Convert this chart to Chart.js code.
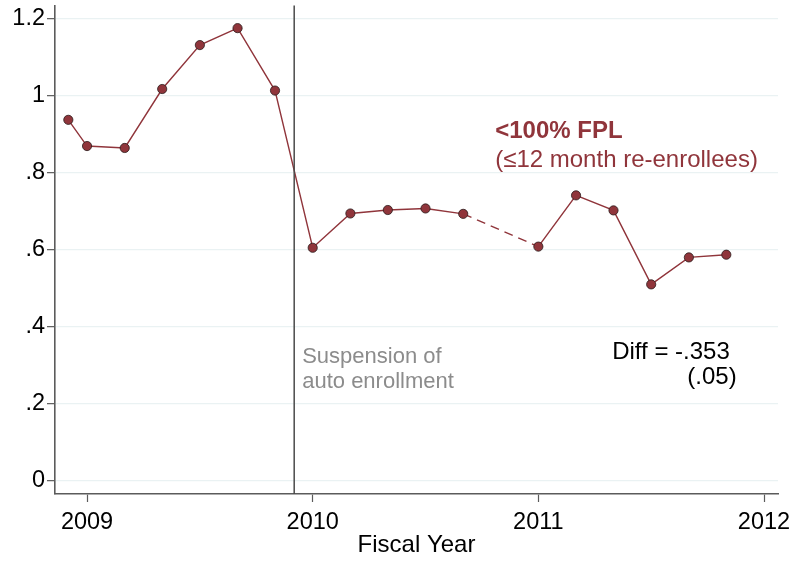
<!DOCTYPE html>
<html>
<head>
<meta charset="utf-8">
<script src="https://cdn.jsdelivr.net/npm/chart.js@4/dist/chart.umd.min.js"></script>
<style>
  html, body { margin: 0; padding: 0; background: #fff; }
  #wrap { width: 795px; height: 561px; }
</style>
</head>
<body>
<div id="wrap"><canvas id="fplChart" width="795" height="561"></canvas></div>
<script>
// Fiscal year periods (bimonthly), one reading missing late 2010
var periods = [2008.917, 2009.0, 2009.167, 2009.333, 2009.5, 2009.667, 2009.833,
               2010.0, 2010.167, 2010.333, 2010.5, 2010.667,
               2011.0, 2011.167, 2011.333, 2011.5, 2011.667, 2011.833]
var rates = [0.937, 0.869, 0.864, 1.017, 1.131, 1.175, 1.013,
             0.605, 0.694, 0.703, 0.707, 0.693,
             0.608, 0.741, 0.702, 0.510, 0.580, 0.587]
var xTicks = [2009, 2010, 2011, 2012]
var yTicks = [0, 0.2, 0.4, 0.6, 0.8, 1, 1.2]
var suspensionAt = 2009.918

var cranberry = 'rgb(144, 53, 59)'
var axisGray = '#5b5b5b'
var FONT = '"Liberation Sans", Arial, sans-serif'

function stataLabel(v) {
    var s = (Math.round(v * 10) / 10).toString()
    return s.replace(/^0\./, '.')
}

//Vertical line + text notes
var notes = {
    id: 'notes',
    afterDatasetsDraw: function(chart) {
        var c = chart.ctx, x = chart.scales.x, y = chart.scales.y, a = chart.chartArea
        var lx = x.getPixelForValue(suspensionAt)
        c.save()
        c.strokeStyle = '#4a4a4a'
        c.lineWidth = 1.5
        c.beginPath()
        c.moveTo(lx, a.top)
        c.lineTo(lx, a.bottom)
        c.stroke()

        c.textBaseline = 'alphabetic'
        c.textAlign = 'left'
        c.fillStyle = '#8c8c8c'
        c.font = '22px ' + FONT
        c.fillText('Suspension of', lx + 8, y.getPixelForValue(0.305))
        c.fillText('auto enrollment', lx + 8, y.getPixelForValue(0.241))

        c.fillStyle = cranberry
        c.font = 'bold 24px ' + FONT
        c.fillText('<100% FPL', x.getPixelForValue(2010.809), y.getPixelForValue(0.890))
        c.font = '24px ' + FONT
        c.fillText('(\u226412 month re-enrollees)', x.getPixelForValue(2010.809), y.getPixelForValue(0.815))

        c.fillStyle = '#000'
        c.fillText('Diff = -.353', x.getPixelForValue(2011.327), y.getPixelForValue(0.316))
        c.fillText('(.05)', x.getPixelForValue(2011.660), y.getPixelForValue(0.251))
        c.restore()
    }
}

var ctx = document.getElementById('fplChart').getContext('2d')
var fplChart = new Chart(ctx, {
    type: 'line',
    data: {
        datasets: [{
            data: periods.map(function(p, i) { return { x: p, y: rates[i] } }),
            borderColor: cranberry,
            borderWidth: 1.4,
            backgroundColor: cranberry,
            pointBackgroundColor: cranberry,
            pointBorderColor: '#2a1a1a',
            pointBorderWidth: 0.8,
            pointRadius: 4.6,
            tension: 0,
            segment: {
                borderDash: function(s) {
                    return (s.p1.parsed.x - s.p0.parsed.x) > 0.2 ? [9, 6] : undefined
                }
            }
        }]
    },
    options: {
        responsive: false,
        animation: false,
        layout: { padding: { left: 0, top: 4, right: 17, bottom: 0 } },
        plugins: {
            legend: { display: false },
            tooltip: { enabled: false }
        },
        scales: {
            x: {
                type: 'linear',
                min: 2008.858,
                max: 2012.062,
                afterBuildTicks: function(scale) {
                    scale.ticks = xTicks.map(function(v) { return { value: v } })
                },
                afterFit: function(scale) {
                    scale.height = 67
                    scale.paddingLeft = 0
                    scale.paddingRight = 0
                },
                ticks: {
                    color: '#000',
                    font: { family: FONT, size: 23.5 },
                    padding: 6,
                    maxRotation: 0,
                    callback: function(v) { return v.toString() }
                },
                grid: {
                    drawOnChartArea: false,
                    drawTicks: true,
                    tickLength: 8,
                    tickColor: axisGray,
                    tickWidth: 1.2
                },
                border: { color: axisGray, width: 1.6 },
                title: {
                    display: true,
                    text: 'Fiscal Year',
                    color: '#000',
                    font: { family: FONT, size: 24 },
                    padding: { top: 0, bottom: 1 }
                }
            },
            y: {
                min: -0.034,
                max: 1.234,
                afterBuildTicks: function(scale) {
                    scale.ticks = yTicks.map(function(v) { return { value: v } })
                },
                afterFit: function(scale) {
                    scale.width = 55
                    scale.paddingTop = 0
                    scale.paddingBottom = 0
                },
                ticks: {
                    color: '#000',
                    font: { family: FONT, size: 23.5 },
                    padding: 2,
                    callback: function(v) { return stataLabel(v) }
                },
                grid: {
                    color: 'rgb(234, 242, 243)',
                    lineWidth: 1.3,
                    drawTicks: true,
                    tickLength: 8,
                    tickColor: axisGray,
                    tickWidth: 1.2
                },
                border: { color: axisGray, width: 1.6 }
            }
        }
    },
    plugins: [notes]
})
</script>
</body>
</html>
